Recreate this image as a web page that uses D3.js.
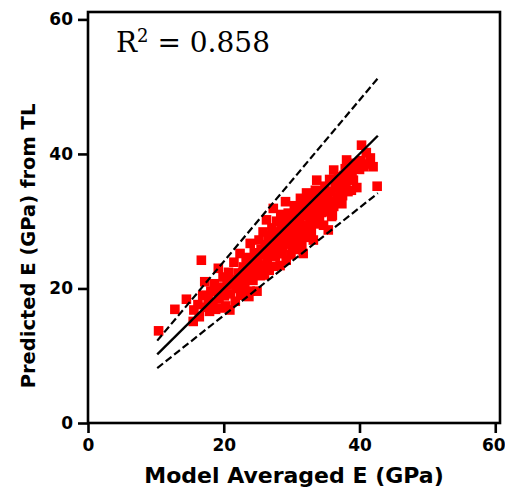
<!DOCTYPE html>
<html>
<head>
<meta charset="utf-8">
<script src="https://cdn.jsdelivr.net/npm/d3@7"></script>
<style>
    body { margin: 0; background: #fff; }
    svg { display: block; }
</style>
</head>
<body>
<svg width="505" height="487"></svg>
<script>
// values (GPa)
const modelE = [
    10.4, 12.8, 14.5, 15.5, 15.6, 16.2, 16.4, 16.7, 16.9, 17.2, 17.3, 17.7, 17.9, 18.1, 18.4, 18.6,
    18.8, 19.2, 19.3, 19.5, 19.6, 19.9, 20.1, 20.3, 20.5, 20.7, 20.9, 21.0, 21.3, 21.5, 21.7, 21.9,
    22.1, 22.4, 22.5, 22.7, 22.9, 23.1, 23.3, 23.5, 23.7, 23.9, 23.9, 24.1, 24.3, 24.5, 24.7, 24.9,
    25.0, 25.2, 25.4, 25.5, 25.7, 25.8, 26.0, 26.1, 26.3, 26.4, 26.6, 26.7, 26.9, 27.1, 27.3, 27.3,
    27.5, 27.6, 27.8, 28.0, 28.1, 28.3, 28.4, 28.6, 28.8, 28.9, 29.1, 29.2, 29.4, 29.5, 29.7, 29.9,
    30.0, 30.2, 30.4, 30.5, 30.7, 30.8, 31.0, 31.2, 31.3, 31.5, 31.7, 31.8, 32.0, 32.2, 32.3, 32.5,
    32.7, 32.9, 33.0, 33.2, 33.4, 33.6, 33.7, 33.9, 34.1, 34.3, 34.5, 34.7, 34.9, 35.1, 35.4, 35.5,
    35.7, 35.9, 36.2, 36.2, 36.4, 36.7, 36.9, 37.1, 37.4, 37.6, 37.9, 38.1, 38.3, 38.6, 38.8, 39.1,
    39.3, 39.6, 40.0, 40.3, 40.6, 41.6, 42.0, 42.6,
    19.0, 20.0, 20.8, 21.6, 22.3, 22.8, 23.4, 23.8, 24.4, 24.8, 25.3, 25.6, 26.2, 26.5, 26.9, 27.2,
    27.4, 27.9, 28.2, 28.5, 28.7, 29.0, 29.3, 29.6, 29.9, 30.1, 30.3, 30.6, 30.9, 31.1, 31.4, 31.6,
    31.9, 32.1, 32.4, 32.6, 32.8, 33.1, 33.3, 33.5, 33.8, 34.0, 34.2, 34.4, 34.8, 35.0, 35.3, 35.6,
    35.8, 36.0, 36.5, 36.8, 37.2, 37.5, 37.7, 38.0, 38.4, 38.9, 39.5, 40.2, 41.0, 41.2
];
const predictedE = [
    13.7, 16.9, 18.4, 15.1, 16.8, 17.6, 15.8, 24.2, 19.0, 21.0, 17.2, 18.3, 16.6, 19.6, 17.8, 20.7,
    16.9, 23.0, 18.5, 17.1, 20.0, 21.7, 18.9, 17.4, 20.6, 22.4, 16.8, 19.2, 21.1, 23.9, 18.1, 20.0,
    22.3, 25.2, 19.0, 21.0, 23.2, 20.1, 24.6, 22.0, 18.8, 26.7, 19.6, 23.2, 21.2, 25.3, 22.3, 19.6,
    24.1, 27.2, 21.9, 25.8, 23.5, 28.4, 22.0, 26.5, 30.2, 24.3, 27.8, 22.7, 25.6, 29.0, 31.9, 23.3,
    27.0, 24.8, 30.0, 26.0, 28.4, 23.4, 31.0, 25.2, 27.4, 29.8, 32.9, 24.2, 26.6, 31.2, 28.4, 25.0,
    30.2, 27.0, 32.3, 29.0, 25.8, 31.7, 28.0, 30.1, 33.4, 26.4, 25.2, 31.5, 29.0, 34.2, 27.6, 32.4,
    30.3, 28.3, 33.5, 27.2, 31.4, 29.6, 36.1, 33.0, 30.6, 34.5, 32.0, 29.4, 35.2, 33.0, 28.7, 31.4,
    34.4, 30.7, 37.6, 32.2, 35.4, 33.5, 36.6, 34.4, 32.6, 35.6, 37.8, 39.1, 34.4, 36.4, 34.6, 36.1,
    38.6, 35.0, 37.7, 41.3, 38.1, 39.4, 38.1, 35.2,
    19.5, 20.2, 21.3, 20.7, 21.5, 22.4, 23.3, 21.4, 24.2, 23.6, 25.0, 22.8, 25.5, 23.1, 27.3, 26.1,
    28.3, 25.2, 27.0, 29.1, 26.2, 28.0, 30.3, 27.4, 29.4, 26.3, 31.0, 28.2, 30.6, 27.1, 29.4, 32.4,
    28.3, 30.8, 33.2, 29.2, 31.6, 30.2, 32.5, 34.6, 31.7, 29.8, 33.4, 31.3, 33.8, 31.9, 34.2, 36.2,
    32.9, 30.9, 33.0, 35.0, 36.0, 33.8, 36.8, 35.4, 37.5, 37.0, 37.9, 39.0, 40.2, 38.5
];

const fitRange = [10.2, 42.7];      // extent of the 1:1 line
const bandFactors = [1.2, 0.8];     // dashed +/-20% lines
const xTicks = [0, 20, 40, 60];
const yTicks = [0, 20, 40, 60];
const r2Value = "0.858";

document.addEventListener("DOMContentLoaded", function() {
    drawGraph();
});

function drawGraph() {
    const svg = d3.select("svg");
    svg.selectAll('*').remove();

    const area = { left: 88, right: 500, top: 12, bottom: 423 };

    const scX = d3.scaleLinear().domain([0, 60.7]).range([area.left, area.right]);
    const scY = d3.scaleLinear().domain([0, 61.1]).range([area.bottom, area.top]);

    // points
    const size = 9.6;
    svg.append("g")
        .selectAll("rect")
        .data(modelE.map((x, i) => [x, predictedE[i]]))
        .enter()
        .append("rect")
        .attr("x", d => scX(d[0]) - size / 2)
        .attr("y", d => scY(d[1]) - size / 2)
        .attr("width", size)
        .attr("height", size)
        .style("fill", "#ff0000");

    const line = d3.line().x(d => scX(d[0])).y(d => scY(d[1]));

    // 1:1 line
    svg.append("path")
        .attr("d", line(fitRange.map(x => [x, x])))
        .style("fill", "none")
        .style("stroke", "#000")
        .style("stroke-width", 2.4);

    // +/- 20% lines
    bandFactors.forEach(k => {
        svg.append("path")
            .attr("d", line(fitRange.map(x => [x, x * k])))
            .style("fill", "none")
            .style("stroke", "#000")
            .style("stroke-width", 2.2)
            .style("stroke-dasharray", "7.4,3.4");
    });

    // frame
    svg.append("rect")
        .attr("x", area.left)
        .attr("y", area.top)
        .attr("width", area.right - area.left)
        .attr("height", area.bottom - area.top)
        .style("fill", "none")
        .style("stroke", "#000")
        .style("stroke-width", 2.6);

    const axisX = d3.axisBottom(scX).tickValues(xTicks).tickSize(10).tickPadding(6);
    const axisY = d3.axisLeft(scY).tickValues(yTicks).tickSize(10).tickPadding(5);

    const gx = svg.append("g")
        .attr("transform", `translate(0, ${area.bottom})`)
        .call(axisX);
    const gy = svg.append("g")
        .attr("transform", `translate(${area.left}, 0)`)
        .call(axisY);

    [gx, gy].forEach(g => {
        g.select(".domain").remove();
        g.selectAll(".tick line").style("stroke", "#000").style("stroke-width", 2.6);
        g.selectAll(".tick text")
            .style("font-family", "DejaVu Sans")
            .style("font-weight", "bold")
            .style("font-size", "17px")
            .style("fill", "#000");
    });
    // keep the last x label inside the window
    gx.selectAll(".tick text").filter(d => d === 60).attr("dx", -2);

    // axis titles
    svg.append("text")
        .attr("x", (area.left + area.right) / 2)
        .attr("y", 483)
        .attr("text-anchor", "middle")
        .style("font-family", "DejaVu Sans")
        .style("font-weight", "bold")
        .style("font-size", "22px")
        .text("Model Averaged E (GPa)");

    svg.append("text")
        .attr("transform", "translate(35, 246) rotate(-90)")
        .attr("text-anchor", "middle")
        .style("font-family", "DejaVu Sans")
        .style("font-weight", "bold")
        .style("font-size", "19.5px")
        .text("Predicted E (GPa) from TL");

    // R^2 annotation
    const r2 = svg.append("text")
        .attr("x", 116)
        .attr("y", 52)
        .style("font-family", "DejaVu Serif")
        .style("font-size", "28px")
        .style("fill", "#000");
    r2.append("tspan").text("R");
    r2.append("tspan").attr("dy", -10).style("font-size", "18px").text("2");
    r2.append("tspan").attr("dy", 10).text(" = " + r2Value);
}
</script>
</body>
</html>
